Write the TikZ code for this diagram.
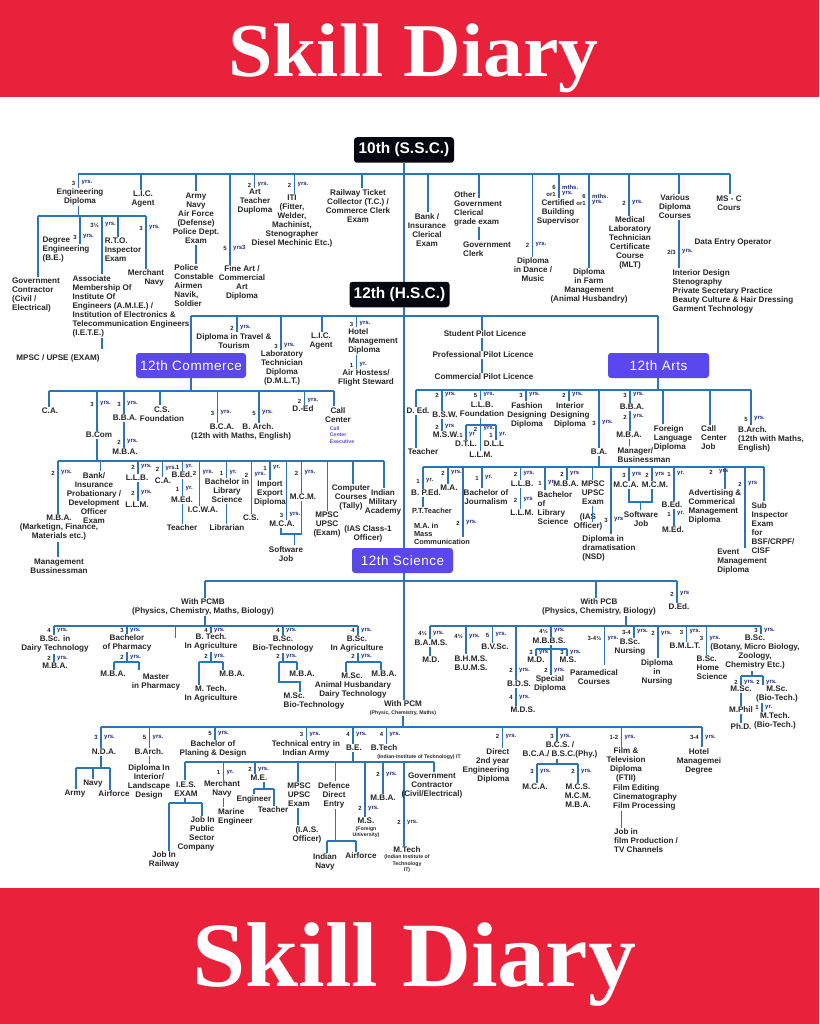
\documentclass[tikz,border=0pt]{standalone}
\usepackage{fontspec}
\setmainfont{Liberation Sans}
\newfontfamily\bigserif{Liberation Serif}
\definecolor{bannerred}{HTML}{EA213A}
\definecolor{linkblue}{HTML}{2B74B5}
\definecolor{inktext}{HTML}{262626}
\definecolor{yrsnavy}{HTML}{1F2A7A}
\definecolor{boxpurple}{HTML}{5A48EE}
\definecolor{boxblack}{HTML}{05060F}
\newcounter{yc}\newcounter{ec}
\tikzset{
  link/.style={draw=linkblue,line width=1.95pt},
  txt/.style={font=\bfseries\fontsize{8.1}{9}\selectfont,text=inktext,inner sep=1pt,align=center},
  tiny/.style={font=\bfseries\fontsize{5.2}{6.6}\selectfont,text=inktext,inner sep=0.5pt,align=center},
  lab/.style={font=\bfseries\fontsize{6}{7}\selectfont,inner sep=0pt},
  darkbox/.style={fill=boxblack,rounded corners=3pt,text=white,font=\bfseries\fontsize{15.4}{17}\selectfont,inner sep=0pt,minimum width=100pt,minimum height=25.5pt},
  purplebox/.style={fill=boxpurple,rounded corners=3pt,text=white,font=\fontsize{13.5}{16}\selectfont\addfontfeature{LetterSpace=4},inner sep=0pt,minimum width=110pt,minimum height=25pt},
  banner/.style={fill=bannerred,draw=none,inner sep=0pt,anchor=north west},
  title/.style={text=white,inner sep=0pt,anchor=base west}
}
\newcommand\Tx[5][]{\node[txt,#1] (#2) at (#3,#4) {#5};}
\newcommand\Ts[5][]{\node[tiny,#1] (#2) at (#3,#4) {#5};}
\newcommand\yr[4]{\stepcounter{yc}\node[lab,text=inktext,anchor=east] (ya\theyc) at (#1-3,#2) {#3};\node[lab,text=yrsnavy,anchor=west] (yb\theyc) at (#1+3,#2) {#4};}
\newcommand\lk[3]{\draw[link] (#2,0 |- #1) -- (#2,0 |- #3);}
\newcommand\lke[3]{\stepcounter{ec}\coordinate (e\theec) at (#2,#3);\draw[link] (#2,0 |- #1) -- (e\theec);}
\newcommand\bus[4]{\coordinate (#1) at (0,#2);\draw[link] (#3,0 |- #1) -- (#4,0 |- #1);}
\begin{document}
\begin{tikzpicture}[x=1pt,y=-1pt]
\useasboundingbox (0,0) rectangle (819,1024);
% banners
\node[banner,minimum width=819pt,minimum height=97pt] (topband) at (0,0) {};
\node[banner,minimum width=819pt,minimum height=136pt] (botband) at (0,888) {};
\node[title] (toptitle) at (228,77) {\scalebox{1.05}[1]{\bigserif\bfseries\fontsize{76}{80}\selectfont Skill Diary}};
\node[title] (bottitle) at (192,986) {\scalebox{1.04}[1]{\bigserif\bfseries\fontsize{92}{96}\selectfont Skill Diary}};
% main boxes
\node[darkbox] (ssc) at (404,150) {10th (S.S.C.)};
\node[darkbox] (hsc) at (399.5,294.5) {12th (H.S.C.)};
\node[purplebox] (comm) at (191,365.5) {12th Commerce};
\node[purplebox,minimum width=101pt] (arts) at (658.5,365.5) {12th Arts};
\node[purplebox,minimum width=101pt] (sci) at (402.5,560.5) {12th Science};
% ---------- after 10th
\bus{b10}{174}{78}{730}
\lk{ssc.south}{404}{hsc.north}
\Tx{eng}{80}{197}{Engineering\\Diploma}
\lk{b10}{78.5}{eng.north}\yr{78.5}{183}{3}{yrs.}
\bus{beng}{216}{38}{146}
\lk{eng.south}{78.5}{beng}
\Tx[align=left]{gov}{36}{295}{Government\\Contractor\\(Civil /\\Electrical)}
\lk{beng}{38}{gov.north}
\Tx[align=left]{degree}{66}{250}{Degree\\Engineering\\(B.E.)}
\lke{beng}{80}{244}\yr{80}{237}{3}{yrs.}
\Tx[align=left]{amie}{131}{306}{Associate\\Membership Of\\Institute Of\\Engineers (A.M.I.E.) /\\Institution of Electronics \&\\Telecommunication Engineers\\(I.E.T.E.)}
\lk{beng}{102}{amie.north}\yr{102}{225}{3½}{yrs.}
\Tx[align=left]{rto}{123}{250}{R.T.O.\\Inspector\\Exam}
\lk{beng}{118}{rto.north}
\Tx[align=right]{merch}{146}{278}{Merchant\\Navy}
\lk{beng}{146}{merch.north}\yr{146}{228}{3}{yrs.}
\Tx{mpscu}{58}{358}{MPSC / UPSE (EXAM)}
\lke{amie.south}{102}{349}
\Tx{lic}{143}{199}{L.I.C.\\Agent}
\lk{b10}{141}{lic.north}
\Tx{army}{196}{218}{Army\\Navy\\Air Force\\(Defense)\\Police Dept.\\Exam}
\lk{b10}{196}{army.north}
\Tx[align=left]{police}{194}{286}{Police\\Constable\\Airmen\\Navik,\\Soldier}
\lk{army.south}{196}{police.north}
\Tx{fine}{242}{283}{Fine Art /\\Commercial\\Art\\Diploma}
\lk{b10}{230}{fine.north}\yr{230}{248}{5}{yrs3}
\Tx{artt}{255}{202}{Art\\Teacher\\Duploma}
\lk{b10}{254.5}{artt.north}\yr{254.5}{185}{2}{yrs.}
\Tx{iti}{292}{221}{ITI\\(Fitter,\\Welder,\\Machinist,\\Stenographer\\Diesel Mechinic Etc.)}
\lk{b10}{294.5}{iti.north}\yr{294.5}{185}{2}{yrs.}
\Tx{rail}{358}{206}{Railway Ticket\\Collector (T.C.) /\\Commerce Clerk\\Exam}
\lk{b10}{362}{rail.north}
\Tx{bank}{427}{230}{Bank /\\Insurance\\Clerical\\Exam}
\lk{b10}{428}{bank.north}
\Tx[align=left]{other}{478}{209}{Other\\Government\\Clerical\\grade exam}
\lke{b10}{479}{198}
\Tx[align=left]{govc}{487}{249}{Government\\Clerk}
\lk{other.south}{479}{govc.north}
\Tx{dance}{533}{270}{Diploma\\in Dance /\\Music}
\lk{b10}{532.5}{dance.north}\yr{532.5}{245}{2}{yrs.}
\Tx{cert}{558}{212}{Certified\\Building\\Supervisor}
\lke{b10}{559}{198}\yr{559}{187}{6}{mths.}\yr{559}{194}{or1}{yrs.}
\Tx{farm}{589}{286}{Diploma\\in Farm\\Management\\(Animal Husbandry)}
\lk{b10}{589}{farm.north}\yr{589}{196}{6}{mths.}\yr{589}{203}{or1}{yrs.}
\Tx{mlt}{630}{243}{Medical\\Laboratory\\Technician\\Certificate\\Course\\(MLT)}
\lk{b10}{629}{mlt.north}\yr{629}{203}{2}{yrs.}
\Tx{var}{675}{207}{Various\\Diploma\\Courses}
\lk{b10}{679}{var.north}
\Tx{deo}{733}{243}{Data Entry Operator}
\Tx[align=left]{intd}{733}{291}{Interior Design\\Stenography\\Private Secretary Practice\\Beauty Culture \& Hair Dressing\\Garment Technology}
\lk{var.south}{679}{intd.north}\yr{679}{252}{2/3}{yrs.}
\Tx{msc}{729}{203}{MS - C\\Cours}
\lk{b10}{730}{msc.north}
% ---------- after 12th
\bus{b12}{316}{191}{658}
\lk{hsc.south}{404}{sci.north}
\lk{b12}{191}{comm.north}
\Tx{trav}{234}{341}{Diploma in Travel \&\\Tourism}
\lk{b12}{237}{trav.north}\yr{237}{328}{2}{yrs.}
\Tx{lab}{282}{368}{Laboratory\\Technician\\Diploma\\(D.M.L.T.)}
\lk{b12}{281}{lab.north}\yr{281}{346}{3}{yrs.}
\Tx{lic2}{321}{341}{L.I.C.\\Agent}
\lk{b12}{322}{lic2.north}
\Tx[align=left]{hotel}{373}{341}{Hotel\\Management\\Diploma}
\lk{b12}{356.5}{hotel.north}\yr{356.5}{324}{3}{yrs.}
\Tx{airh}{366}{378}{Air Hostess/\\Flight Steward}
\lk{hotel.south}{356.5}{airh.north}\yr{356.5}{365}{1}{yr.}
\Tx{stud}{485}{334}{Student Pilot Licence}
\lk{b12}{482}{stud.north}
\Tx{prof}{483}{355}{Professional Pilot Licence}
\lk{stud.south}{482}{prof.north}
\Tx{cpl}{484}{377}{Commercial Pilot Licence}
\lk{prof.south}{482}{cpl.north}
\lk{b12}{658}{arts.north}
% ---------- commerce
\bus{bcom}{391}{49}{334}
\lk{comm.south}{191}{bcom}
\Tx{ca1}{50}{411}{C.A.}
\lk{bcom}{49}{ca1.north}
\Tx{bcomn}{99}{435}{B.Com}
\lk{bcom}{97}{bcomn.north}\yr{97}{404}{3}{yrs.}
\Tx{bba1}{125}{418}{B.B.A.}
\lk{bcom}{124}{bba1.north}\yr{124}{404}{3}{yrs.}
\Tx{mba1}{125}{452}{M.B.A.}
\lk{bba1.south}{124}{mba1.north}\yr{124}{442}{2}{yrs.}
\Tx{csf}{162}{414}{C.S.\\Foundation}
\lk{bcom}{160}{csf.north}
\Tx{bca1}{222}{427}{B.C.A.}
\lk{bcom}{217.5}{bca1.north}\yr{217.5}{413}{3}{yrs.}
\Tx{barch1}{258}{427}{B. Arch.}
\lk{bcom}{259}{barch1.north}\yr{259}{413}{5}{yrs.}
\Tx{wmath}{241}{436}{(12th with Maths, English)}
\Tx{ded1}{303}{409}{D.-Ed}
\lk{bcom}{304.5}{ded1.north}\yr{304.5}{401}{2}{yrs.}
\Tx{call1}{338}{415}{Call\\Center}
\lk{bcom}{334}{call1.north}
\node[lab,text=boxpurple,font=\bfseries\fontsize{5.2}{6.6}\selectfont,align=left] (call1e) at (342,435) {Call\\Center\\Executive};
\bus{bbc}{461}{58}{384}
\lk{bcomn.south}{97}{bbc}
\Tx{mba2}{59}{528}{M.B.A.\\(Marketign, Finance,\\Materials etc.)}
\lk{bbc}{58}{mba2.north}\yr{58}{473}{2}{yrs.}
\Tx{mgmt}{59}{566}{Management\\Bussinessman}
\lk{mba2.south}{58}{mgmt.north}
\Tx{bankpo}{94}{498}{Bank/\\Insurance\\Probationary /\\Development\\Officer\\Exam}
\lk{bbc}{100.5}{bankpo.north}
\Tx{llb1}{137}{478}{L.L.B.}
\lk{bbc}{138}{llb1.north}\yr{138}{467}{2}{yrs.}
\Tx{llm1}{137}{505}{L.L.M.}
\lk{llb1.south}{138}{llm1.north}\yr{138}{493}{2}{yrs.}
\Tx{ca2}{163}{481}{C.A.}
\lk{bbc}{162.5}{ca2.north}\yr{162.5}{469}{2}{yrs.}
\Tx{bed1}{182}{475}{B.Ed.}
\lk{bbc}{182.5}{bed1.north}\yr{182.5}{467}{1}{yr.}
\Tx{med1}{182}{500}{M.Ed.}
\lk{bed1.south}{182.5}{med1.north}\yr{182.5}{489}{1}{yr.}
\Tx{teach1}{182}{528}{Teacher}
\lk{med1.south}{182.5}{teach1.north}
\Tx{icwa}{203}{510}{I.C.W.A.}
\lk{bbc}{199.5}{icwa.north}\yr{199.5}{473}{2}{yrs.}
\Tx{blib1}{227}{491}{Bachelor in\\Library\\Science}
\lk{bbc}{226.5}{blib1.north}\yr{226.5}{473}{1}{yr.}
\Tx{libr}{227}{528}{Librarian}
\lk{blib1.south}{226.5}{libr.north}
\Tx{cs2}{251}{518}{C.S.}
\lk{bbc}{251.5}{cs2.north}\yr{251.5}{475}{2}{yrs.}
\Tx{impx}{270}{494}{Import\\Export\\Diploma}
\lk{bbc}{270}{impx.north}\yr{270}{468}{1}{yr.}
\Tx{mca1}{282}{524}{M.C.A.}
\lke{bbc}{286.5}{520}\yr{286.5}{515}{3}{yrs.}
\Tx{mcm1}{303}{497}{M.C.M.}
\lk{bbc}{301.5}{mcm1.north}\yr{301.5}{473}{2}{yrs.}
\coordinate (ujoin1) at (0,534);
\draw[link] (281,0 |- mca1.south) |- (301.5,0 |- ujoin1) -- (301.5,0 |- mcm1.south);
\Tx{soft1}{286}{554}{Software\\Job}
\lk{ujoin1}{294.5}{soft1.north}
\Tx{mpsc1}{327}{525}{MPSC\\UPSC\\(Exam)}
\lk{bbc}{327.5}{mpsc1.north}
\Tx{comp}{351}{498}{Computer\\Courses\\(Tally)}
\lk{bbc}{353}{comp.north}
\Tx{ias1}{368}{534}{(IAS Class-1\\Officer)}
\Tx{indm}{383}{502}{Indian\\Military\\Academy}
\lk{bbc}{384}{indm.north}
% ---------- arts
\bus{barts}{390}{416}{751}
\lk{arts.south}{658}{barts}
\Tx{ded2}{418}{411}{D. Ed.}
\lk{barts}{416}{ded2.north}
\Tx{teach2}{423}{452}{Teacher}
\lk{ded2.south}{416}{teach2.north}
\Tx{bsw}{445}{415}{B.S.W.}
\lk{barts}{442}{bsw.north}\yr{442}{395}{2}{yrs.}
\Tx{msw}{446}{435}{M.S.W.}
\lk{bsw.south}{442}{msw.north}\yr{442}{427}{2}{yrs}
\Tx{llbf}{482}{409}{L.L.B.\\Foundation}
\lk{barts}{480.5}{llbf.north}\yr{480.5}{395}{5}{yrs.}
\Tx{llm2}{481}{455}{L.L.M.}
\lk{llbf.south}{480.5}{llm2.north}\yr{480.5}{429}{2}{yrs.}
\bus{bllb}{425}{466}{496}
\Tx{dtl}{466}{444}{D.T.L.}
\lk{bllb}{466}{dtl.north}\yr{466}{435}{1}{yr}
\Tx{dll}{494}{444}{D.L.L}
\lk{bllb}{496}{dll.north}\yr{496}{435}{1}{yr.}
\Tx{fash}{527}{415}{Fashion\\Designing\\Diploma}
\lk{barts}{526}{fash.north}\yr{526}{395}{3}{yrs.}
\Tx{intr}{570}{415}{Interior\\Designing\\Diploma}
\lk{barts}{569}{intr.north}\yr{569}{395}{2}{yrs.}
\Tx{ba}{599}{452}{B.A.}
\lk{barts}{599}{ba.north}\yr{599}{423}{3}{yrs.}
\Tx{bba2}{632}{407}{B.B.A.}
\lk{barts}{630}{bba2.north}\yr{630}{395}{3}{yrs.}
\Tx{mba3}{629}{435}{M.B.A.}
\lk{bba2.south}{630}{mba3.north}\yr{630}{417}{2}{yrs.}
\Tx[align=left]{mgr}{644}{455}{Manager/\\Businessman}
\lk{mba3.south}{629.5}{mgr.north}
\Tx[align=left]{forl}{673}{438}{Foreign\\Language\\Diploma}
\lk{barts}{663}{forl.north}
\Tx[align=left]{call2}{714}{438}{Call\\Center\\Job}
\lk{barts}{710}{call2.north}
\Tx[align=left]{barch2}{771}{439}{B.Arch.\\(12th with Maths,\\English)}
\lk{barts}{751}{barch2.north}\yr{751}{419}{5}{yrs.}
% ---------- after B.A.
\bus{bba}{467}{423}{764}
\lk{ba.south}{599}{bba}
\Tx{bped}{426}{493}{B. P.Ed.}
\lk{bba}{423}{bped.north}\yr{423}{481}{1}{yr.}
\Tx[font=\bfseries\fontsize{7.4}{9}\selectfont]{ptt}{432}{511}{P.T.Teacher}
\lk{bped.south}{423}{ptt.north}
\Tx[align=left,font=\bfseries\fontsize{7.4}{8}\selectfont]{mamc}{442}{534}{M.A. in\\Mass\\Communication}
\Tx{ma}{449}{488}{M.A.}
\lk{bba}{448}{ma.north}\yr{448}{473}{2}{yrs.}
\lke{bba}{463}{537}\yr{463}{523}{2}{yrs.}
\Tx{bjour}{486}{497}{Bachelor of\\Journalism}
\lk{bba}{482}{bjour.north}\yr{482}{478}{1}{yr.}
\Tx{llb3}{522}{484}{L.L.B.}
\lk{bba}{520.5}{llb3.north}\yr{520.5}{474}{2}{yrs.}
\Tx{llm3}{522}{513}{L.L.M.}
\lk{llb3.south}{520.5}{llm3.north}\yr{520.5}{500}{2}{yrs}
\Tx[align=left]{blib2}{555}{508}{Bachelor\\of\\Library\\Science}
\lk{bba}{545}{blib2.north}\yr{545}{483}{1}{yr}
\Tx{mba4}{566}{484}{M.B.A.}
\lk{bba}{567}{mba4.north}\yr{567}{474}{2}{yrs}
\Tx{mpsc2}{593}{493}{MPSC\\UPSC\\Exam}
\lk{bba}{592.5}{mpsc2.north}
\Tx{ias2}{588}{522}{(IAS\\Officer)}
\lke{mpsc2.south}{592.5}{522}
\Tx[align=left]{nsd}{609}{548}{Diploma in\\dramatisation\\(NSD)}
\lk{bba}{611}{nsd.north}\yr{611}{520}{3}{yrs}
\Tx{mca2}{626}{485}{M.C.A.}
\lk{bba}{629}{mca2.north}\yr{629}{475}{3}{yrs}
\Tx{mcm2}{655}{485}{M.C.M.}
\lk{bba}{652}{mcm2.north}\yr{652}{475}{2}{yrs}
\coordinate (ujoin2) at (0,502);
\draw[link] (629,0 |- mca2.south) |- (652,0 |- ujoin2) -- (652,0 |- mcm2.south);
\Tx{soft2}{641}{519}{Software\\Job}
\lk{ujoin2}{640.5}{soft2.north}
\Tx{bed2}{672}{505}{B.Ed.}
\lk{bba}{674}{bed2.north}\yr{674}{474}{1}{yr.}
\Tx{med2}{673}{530}{M.Ed.}
\lk{bed2.south}{674}{med2.north}\yr{674}{514}{1}{yr.}
\Tx[align=left]{adv}{715}{507}{Advertising \&\\Commerical\\Management\\Diploma}
\lk{bba}{725}{adv.north}\yr{716}{472}{2}{yrs}
\Tx[align=left]{event}{742}{562}{Event\\Management\\Diploma}
\lk{bba}{745}{event.north}\yr{745}{484}{2}{yrs}
\Tx[align=left]{subi}{773}{528}{Sub\\Inspector\\Exam\\for\\BSF/CRPF/\\CISF}
\lk{bba}{764}{subi.north}
% ---------- science
\bus{bsci}{581}{205}{677}
\Tx{wpcm}{403}{704}{With PCM}
\lk{sci.south}{404}{wpcm.north}
\Tx{wpcmb}{203}{607}{With PCMB\\(Physics, Chemistry, Maths, Biology)}
\lk{bsci}{205}{wpcmb.north}
\bus{bpcmb}{626}{54}{358}
\lk{wpcmb.south}{205}{bpcmb}
\Tx{dairy}{55}{644}{B.Sc. in\\Dairy Technology}
\lk{bpcmb}{54}{dairy.north}\yr{54}{630}{4}{yrs.}
\Tx{mba5}{55}{666}{M.B.A.}
\lk{dairy.south}{54}{mba5.north}\yr{54}{658}{2}{yrs.}
\Tx{pharm}{127}{643}{Bachelor\\of Pharmacy}
\lk{bpcmb}{127}{pharm.north}\yr{127}{630}{3}{yrs.}
\bus{bph}{662}{114}{139}
\lk{pharm.south}{127}{bph}\yr{127}{657}{2}{yrs.}
\Tx{mba6}{113}{674}{M.B.A.}
\lk{bph}{114}{mba6.north}
\Tx{mph}{156}{682}{Master\\in Pharmacy}
\lke{bph}{139}{670}
\lke{bpcmb}{175.5}{638}
\Tx{btag}{211}{642}{B. Tech.\\In Agriculture}
\lk{bpcmb}{211}{btag.north}\yr{211}{630}{4}{yrs.}
\bus{bbt}{662}{199}{223}
\lk{btag.south}{211}{bbt}\yr{211}{656}{2}{yrs.}
\Tx{mtag}{211}{694}{M. Tech.\\In Agriculture}
\lk{bbt}{199}{mtag.north}
\Tx{mba7}{232}{674}{M.B.A.}
\lk{bbt}{223}{mba7.north}
\Tx{bsbt}{283}{644}{B.Sc.\\Bio-Technology}
\lk{bpcmb}{283}{bsbt.north}\yr{283}{630}{4}{yrs.}
\bus{bbs}{662}{279}{297}
\lk{bsbt.south}{283}{bbs}\yr{283}{656}{2}{yrs.}
\Tx{mba8}{302}{674}{M.B.A.}
\lk{bbs}{297}{mba8.north}
\Tx[align=left]{msbt}{314}{701}{M.Sc.\\Bio-Technology}
\coordinate (kneebs) at (0,682);
\draw[link] (279,0 |- bbs) |- (300,0 |- kneebs) -- (300,0 |- msbt.north);
\Tx{bsag}{357}{644}{B.Sc.\\In Agriculture}
\lk{bpcmb}{358}{bsag.north}\yr{358}{630}{4}{yrs.}
\bus{bag}{662}{346}{381}
\lk{bsag.south}{358}{bag}\yr{358}{656}{2}{yrs.}
\Tx{msc1}{352}{676}{M.Sc.}
\lk{bag}{346}{msc1.north}
\Tx{mba9}{384}{674}{M.B.A.}
\lk{bag}{381}{mba9.north}
\Tx{anim}{353}{690}{Animal Husbandary\\Dairy Technology}
% ---------- PCB
\Tx{wpcb}{599}{607}{With PCB\\(Physics, Chemistry, Biology)}
\lk{bsci}{596}{wpcb.north}
\Tx{ded3}{679}{607}{D.Ed.}
\lk{bsci}{677}{ded3.north}\yr{677}{594}{2}{yrs}
\bus{bpcb}{626}{430}{761}
\lk{wpcb.south}{626}{bpcb}
\Tx{bams}{431}{643}{B.A.M.S.}
\lk{bpcb}{430}{bams.north}\yr{430}{633}{4½}{yrs.}
\Tx{md1}{431}{660}{M.D.}
\lk{bams.south}{430}{md1.north}
\Tx{bhms}{471}{663}{B.H.M.S.\\B.U.M.S.}
\lk{bpcb}{466}{bhms.north}\yr{466}{636}{4½}{yrs.}
\Tx{bvsc}{495}{647}{B.V.Sc.}
\lk{bpcb}{492.5}{bvsc.north}\yr{492.5}{635}{5}{yrs.}
\Tx{bds}{519}{684}{B.D.S.}
\lk{bpcb}{516}{bds.north}\yr{516}{670}{2}{yrs.}
\Tx{mds}{523}{710}{M.D.S.}
\lk{bds.south}{516}{mds.north}\yr{516}{697}{4}{yrs.}
\Tx{mbbs}{549}{641}{M.B.B.S.}
\lk{bpcb}{551}{mbbs.north}\yr{551}{631}{4½}{yrs.}
\Tx{spec}{550}{684}{Special\\Diploma}
\lk{mbbs.south}{551}{spec.north}\yr{551}{670}{2}{yrs.}
\bus{bmb}{649}{536}{567}
\Tx{md2}{536}{660}{M.D.}
\lk{bmb}{536}{md2.north}\yr{536}{652}{3}{yrs}
\Tx{ms2}{568}{660}{M.S.}
\lk{bmb}{567}{ms2.north}\yr{567}{652}{3}{yrs.}
\Tx{para}{594}{677}{Paramedical\\Courses}
\lke{bpcb}{604.5}{665}\yr{604.5}{638}{3-4½}{yrs.}
\Tx{nurs}{630}{647}{B.Sc.\\Nursing}
\lk{bpcb}{634}{nurs.north}\yr{634}{632}{3-4}{yrs.}
\Tx{dnurs}{657}{672}{Diploma\\in\\Nursing}
\lk{bpcb}{658}{dnurs.north}\yr{658}{633}{2}{yrs.}
\Tx{bmlt}{685}{646}{B.M.L.T.}
\lk{bpcb}{686.5}{bmlt.north}\yr{686.5}{632}{3}{yrs.}
\Tx[align=left]{home}{712}{668}{B.Sc.\\Home\\Science}
\lk{bpcb}{706.5}{home.north}\yr{706.5}{638}{3}{yrs.}
\Tx{bscb}{755}{652.5}{B.Sc.\\(Botany, Micro Biology,\\Zoology,\\Chemistry Etc.)}
\lk{bpcb}{761}{bscb.north}\yr{761}{630.5}{3}{yrs.}
\bus{bbo}{676}{741}{763}
\lk{bscb.south}{752}{bbo}
\Tx{msc2}{741}{689}{M.Sc.}
\lk{bbo}{741}{msc2.north}\yr{741}{682}{2}{yrs.}
\Tx{msc3}{777}{694}{M.Sc.\\(Bio-Tech.)}
\lke{bbo}{763}{685}\yr{763}{682}{2}{yrs.}
\Tx{mphil}{741}{710}{M.Phil}
\lk{msc2.south}{741}{mphil.north}
\Tx{phd}{741}{727}{Ph.D.}
\lk{mphil.south}{741}{phd.north}
\Tx{mtb}{775}{721}{M.Tech.\\(Bio-Tech.)}
\coordinate (mtbtop) at (762,703);
\lk{mtbtop}{762}{mtb.north}\yr{762}{707}{1}{yr.}
% ---------- PCM
\Ts{wpcms}{403}{713}{(Physic, Chemistry, Maths)}
\bus{bpcm}{727}{101}{702}
\lk{wpcms.south}{403}{bpcm}
\Tx{nda}{104}{752}{N.D.A.}
\lk{bpcm}{101}{nda.north}\yr{101}{737}{3}{yrs.}
\bus{bnda}{768}{76}{110}
\lk{nda.south}{101}{bnda}
\Tx{navy1}{93}{784}{Navy}
\lk{bnda}{93}{navy1.north}
\Tx{army2}{75}{794}{Army}
\lk{bnda}{76}{army2.north}
\Tx{airf1}{114}{794}{Airforce}
\lk{bnda}{110}{airf1.north}
\Tx{barch3}{149}{752}{B.Arch.}
\lk{bpcm}{149.5}{barch3.north}\yr{149.5}{737}{5}{yrs.}
\Tx{dint}{149}{782}{Diploma In\\Interior/\\Landscape\\Design}
\lk{barch3.south}{149.5}{dint.north}
\Tx{bpd}{213}{749}{Bachelor of\\Planing \& Design}
\lk{bpcm}{215}{bpd.north}\yr{215}{733}{5}{yrs.}
\Tx{tech}{306}{749}{Technical entry in\\Indian Army}
\lk{bpcm}{306.5}{tech.north}\yr{306.5}{734}{3}{yrs.}
\Tx{be}{354}{748}{B.E.}
\lk{bpcm}{353}{be.north}\yr{353}{734}{4}{yrs.}
\bus{bbe}{762}{185}{434}
\lk{be.south}{353}{bbe}
\Tx{ies}{186}{789}{I.E.S.\\EXAM}
\lk{bbe}{185}{ies.north}
\bus{bies}{803}{169}{202}
\lk{ies.south}{185}{bies}
\Tx{jrail}{164}{860}{Job In\\Railway}
\lk{bies}{169}{jrail.north}
\Tx[align=right]{jpub}{196}{834}{Job In\\Public\\Sector\\Company}
\lk{bies}{202}{jpub.north}
\Tx{merc2}{222}{789}{Merchant\\Navy}
\lk{bbe}{223.5}{merc2.north}\yr{223.5}{772}{1}{yr.}
\Tx[align=left]{marine}{235.5}{817}{Marine\\Engineer}
\lke{merc2.south}{223.5}{807}
\Tx{me}{259}{778}{M.E.}
\lk{bbe}{255}{me.north}\yr{255}{769}{2}{yrs.}
\bus{bme}{789}{254}{274}
\lk{me.south}{264}{bme}
\Tx{engr}{254}{799}{Engineer}
\lk{bme}{254}{engr.north}
\Tx{teach3}{273}{810}{Teacher}
\lk{bme}{274}{teach3.north}
\Tx{mpsc3}{299}{795}{MPSC\\UPSC\\Exam}
\lk{bbe}{298}{mpsc3.north}
\Tx{iaso}{307}{835}{(I.A.S.\\Officer)}
\lke{mpsc3.south}{298}{825}
\Tx{def}{334}{795}{Defence\\Direct\\Entry}
\lk{bbe}{335.5}{def.north}
\bus{bdef}{841}{327}{356}
\lk{def.south}{335.5}{bdef}
\Tx{navy2}{325}{862}{Indian\\Navy}
\lk{bdef}{327}{navy2.north}
\Tx{airf2}{361}{856}{Airforce}
\lk{bdef}{356}{airf2.north}
\Tx{ms3}{366}{821}{M.S.}
\lk{bbe}{365}{ms3.north}\yr{365}{808}{2}{yrs.}
\Ts{ms3s}{366}{832}{(Foreign\\University)}
\Tx{mba10}{383}{798}{M.B.A.}
\lk{bbe}{383}{mba10.north}\yr{383}{774}{2}{yrs.}
\Tx{mtech}{407}{850}{M.Tech}
\lk{bbe}{404}{mtech.north}\yr{404}{822}{2}{yrs.}
\Ts{mtechs}{407}{864}{(Indian Institute of\\Technology\\IT)}
\Tx{govc2}{432}{786}{Government\\Contractor\\(Civil/Electrical)}
\lk{bbe}{434}{govc2.north}
\Tx{btech}{384}{748}{B.Tech}
\lk{bpcm}{386.5}{btech.north}\yr{386.5}{734}{4}{yrs.}
\Ts{btechs}{419}{757}{(Indian-Institute of Technology) IT}
\Tx[align=right]{direct}{486}{766}{Direct\\2nd year\\Engineering\\Diploma}
\lk{bpcm}{502.5}{direct.north}\yr{502.5}{736}{2}{yrs.}
\Tx{bcs}{560}{750}{B.C.S. /\\B.C.A./ B.S.C.(Phy.)}
\lk{bpcm}{557}{bcs.north}\yr{557}{736}{3}{yrs.}
\bus{bbcs}{764}{537}{578}
\lk{bcs.south}{557}{bbcs}
\Tx{mca3}{535}{787}{M.C.A.}
\lk{bbcs}{537}{mca3.north}\yr{537}{771}{3}{yrs.}
\Tx{mcs}{578}{796}{M.C.S.\\M.C.M.\\M.B.A.}
\lk{bbcs}{578}{mcs.north}\yr{578}{771}{2}{yrs.}
\Tx{film}{626}{765}{Film \&\\Television\\Diploma\\(FTII)}
\lk{bpcm}{621.5}{film.north}\yr{621.5}{737}{1-2}{yrs.}
\Tx[align=left]{filme}{645}{797}{Film Editing\\Cinematography\\Film Processing}
\Tx[align=left]{jobf}{646}{841}{Job in\\film Production /\\TV Channels}
\lk{filme.south}{621.5}{jobf.north}
\Tx{hotd}{699}{761}{Hotel\\Managemei\\Degree}
\lk{bpcm}{702}{hotd.north}\yr{702}{737}{3-4}{yrs.}
\end{tikzpicture}
\end{document}
